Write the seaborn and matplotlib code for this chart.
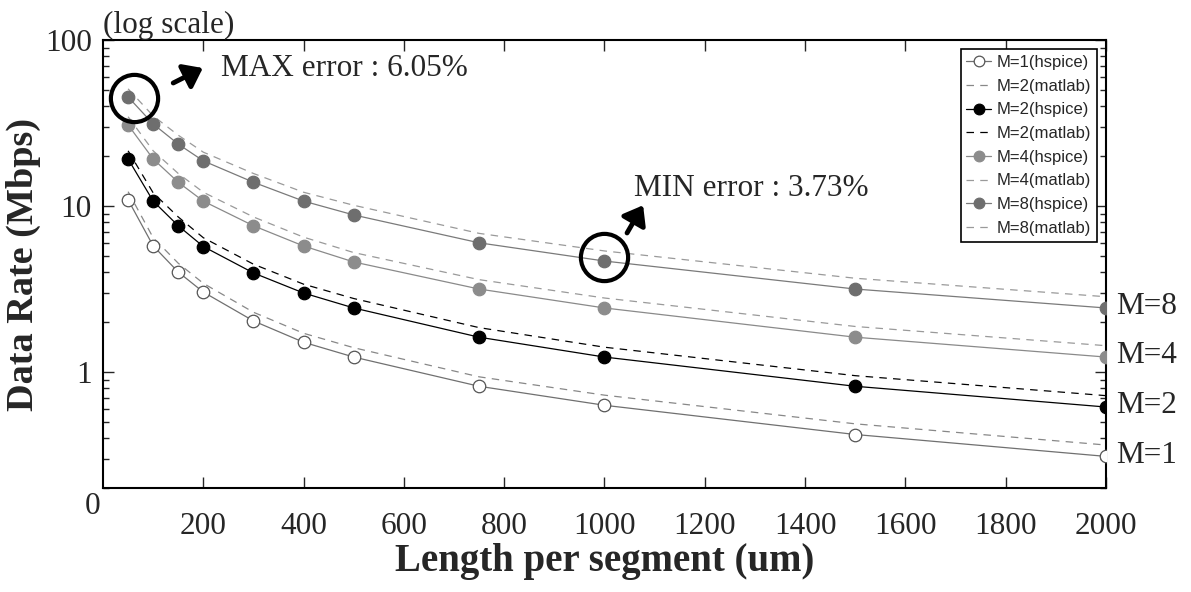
import numpy as np
import pandas as pd
import seaborn as sns
import matplotlib.pyplot as plt
from matplotlib.ticker import FixedLocator, LogLocator, NullFormatter
from matplotlib.transforms import offset_copy

# data (Mbps)
lengths = [50, 100, 150, 200, 300, 400, 500, 750, 1000, 1500, 2000]

m1_hspice = [10.9, 5.75, 4.0, 3.03, 2.03, 1.51, 1.23, 0.82, 0.63, 0.42, 0.31]
m1_matlab = [12.2, 6.44, 4.52, 3.42, 2.29, 1.71, 1.40, 0.935, 0.725, 0.487, 0.363]
m2_hspice = [19.2, 10.7, 7.6, 5.7, 3.95, 2.99, 2.43, 1.62, 1.23, 0.82, 0.615]
m2_matlab = [21.5, 12.0, 8.59, 6.44, 4.46, 3.38, 2.77, 1.85, 1.41, 0.95, 0.72]
m4_hspice = [30.8, 19.2, 13.9, 10.7, 7.6, 5.74, 4.6, 3.16, 2.43, 1.62, 1.23]
m4_matlab = [34.5, 21.5, 15.7, 12.1, 8.59, 6.49, 5.24, 3.60, 2.79, 1.88, 1.44]
m8_hspice = [45.4, 31.2, 23.6, 18.7, 13.9, 10.7, 8.83, 6.0, 4.66, 3.16, 2.43]
m8_matlab = [50.8, 34.9, 26.7, 21.1, 15.7, 12.1, 10.1, 6.84, 5.36, 3.67, 2.84]

legend_labels = ["M=1(hspice)", "M=2(matlab)", "M=2(hspice)", "M=2(matlab)",
                 "M=4(hspice)", "M=4(matlab)", "M=8(hspice)", "M=8(matlab)"]
right_labels = ["M=1", "M=2", "M=4", "M=8"]

sns.set_style("ticks")
plt.rcParams['font.family'] = ['Liberation Serif', 'DejaVu Serif']

fig, ax = plt.subplots(figsize=(11.91, 5.92), dpi=100)
fig.subplots_adjust(left=0.0865, right=0.9286, top=0.9324, bottom=0.1757)

dash = (0, (6, 5))
# (values, line colour, linestyle, marker, face, edge)
series = [
    (m1_hspice, "#707070", "-", "o", "white", "#555555"),
    (m1_matlab, "#888888", dash, None, None, None),
    (m2_hspice, "black", "-", "o", "black", "black"),
    (m2_matlab, "black", dash, None, None, None),
    (m4_hspice, "#8a8a8a", "-", "o", "#8c8c8c", "#8c8c8c"),
    (m4_matlab, "#9a9a9a", dash, None, None, None),
    (m8_hspice, "#7a7a7a", "-", "o", "#6e6e6e", "#6e6e6e"),
    (m8_matlab, "#9a9a9a", dash, None, None, None),
]

for (vals, col, ls, mk, mfc, mec), lab in zip(series, legend_labels):
    kw = dict(color=col, linestyle=ls, linewidth=0.9, label=lab)
    if mk:
        kw.update(marker=mk, markersize=9, markerfacecolor=mfc,
                  markeredgecolor=mec, markeredgewidth=0.9)
        z = 4
    else:
        z = 3
    sns.lineplot(x=lengths, y=vals, ax=ax, zorder=z, **kw)

ax.set_yscale("log")
ax.set_xlim(0, 2000)
ax.set_ylim(0.2, 100)

ax.xaxis.set_major_locator(FixedLocator(range(200, 2001, 200)))
ax.set_xticklabels([str(v) for v in range(200, 2001, 200)])
ax.yaxis.set_major_locator(FixedLocator([1, 10, 100]))
ax.set_yticklabels(["1", "10", "100"])
ax.yaxis.set_minor_locator(LogLocator(base=10, subs=np.arange(2, 10)))
ax.yaxis.set_minor_formatter(NullFormatter())

ax.tick_params(which="both", direction="in", top=True, right=True,
               width=1, labelsize=22.5)
ax.tick_params(axis="x", which="major", length=8, pad=17)
ax.tick_params(axis="y", which="major", length=8, pad=8)
ax.tick_params(axis="y", which="minor", length=4)
for s in ax.spines.values():
    s.set_linewidth(1.5)
    s.set_color("black")

ax.set_xlabel("Length per segment (um)", fontsize=28, fontweight="bold", labelpad=2)
ax.set_ylabel("Data Rate (Mbps)", fontsize=27.5, fontweight="bold", labelpad=3)

ax.text(0, 1.0, "(log scale)", transform=ax.transAxes, fontsize=22.5,
        ha="left", va="bottom")
ax.text(-0.01, -0.042, "0", transform=ax.transAxes, fontsize=22.5,
        ha="center", va="center")

# highlight circles
circ_max = offset_copy(ax.transData, fig=fig, x=4.3, y=-0.5, units="points")
ax.plot([lengths[0]], [m8_hspice[0]], marker="o", markersize=34, markerfacecolor="none",
        markeredgecolor="black", markeredgewidth=3, transform=circ_max, zorder=6)
circ_min = offset_copy(ax.transData, fig=fig, x=0, y=3, units="points")
ax.plot([lengths[8]], [m8_hspice[8]], marker="o", markersize=34, markerfacecolor="none",
        markeredgecolor="black", markeredgewidth=3, transform=circ_min, zorder=6)

arrow = dict(arrowstyle="-|>,head_length=0.6,head_width=0.45", lw=3.5,
             color="black", shrinkA=0, shrinkB=0, mutation_scale=18)
ax.annotate("", xy=(199, 67.8), xytext=(140, 55.1), arrowprops=arrow, zorder=7)
ax.annotate("", xy=(1077, 10.1), xytext=(1045, 6.88), arrowprops=arrow, zorder=7)
ax.text(236, 67.5, "MAX error : 6.05%", fontsize=22.5, ha="left", va="center")
ax.text(1058, 12.8, "MIN error : 3.73%", fontsize=22.5, ha="left", va="center")

# labels at the right end of each group
for lab, vals in zip(right_labels, [m1_hspice, m2_hspice, m4_hspice, m8_hspice]):
    ax.annotate(lab, xy=(lengths[-1], vals[-1]), xytext=(7, 1),
                textcoords="offset points", fontsize=22.5, ha="left", va="center",
                annotation_clip=False)

leg = ax.legend(loc="upper right", prop={"family": "Liberation Sans", "size": 12},
                frameon=True, fancybox=False, framealpha=1, edgecolor="black",
                borderpad=0.35, labelspacing=0.52, handlelength=1.5,
                handletextpad=0.3, borderaxespad=0.55, markerscale=0.85)
leg.get_frame().set_linewidth(1.2)

fig.savefig("out.png", dpi=100)
